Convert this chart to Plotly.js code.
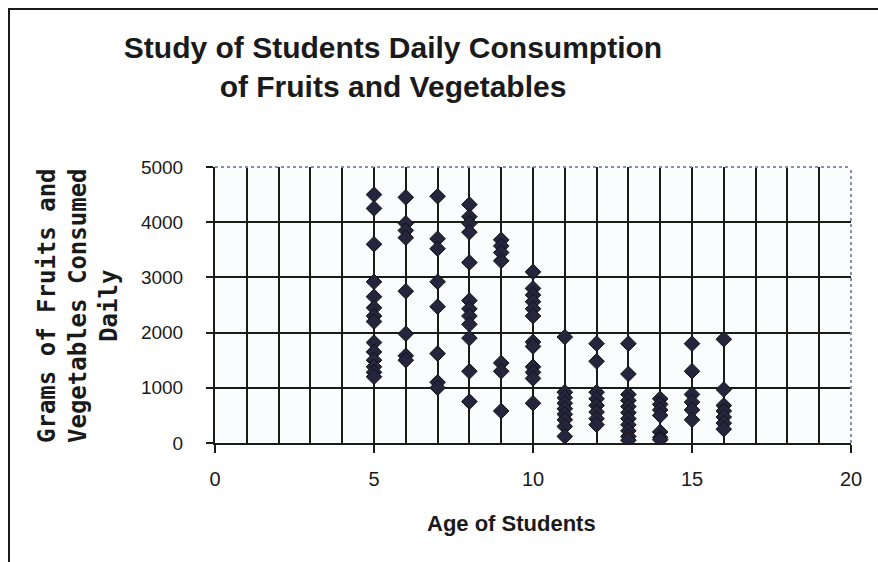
<!DOCTYPE html>
<html>
<head>
<meta charset="utf-8">
<script src="https://cdn.plot.ly/plotly-3.0.1.min.js"></script>
<style>
  html, body { margin: 0; padding: 0; background: #ffffff; }
  #wrap { position: relative; width: 878px; height: 562px; }
  #chart { width: 878px; height: 562px; }
  #frame { position: absolute; left: 8px; top: 8px; right: -4px; bottom: -4px;
           border-top: 2px solid #1a1a1a; border-left: 2px solid #1a1a1a; pointer-events: none; }
</style>
</head>
<body>
<div id="wrap">
  <div id="chart"></div>
  <div id="frame"></div>
</div>
<script>
// Ages (x) and grams consumed daily (y)
const ages = [5, 6, 7, 8, 9, 10, 11, 12, 13, 14, 15, 16];
const gramsAge5  = [4500, 4250, 3600, 2920, 2650, 2450, 2300, 2200, 1820, 1650, 1500, 1380, 1280, 1200];
const gramsAge6  = [4450, 3980, 3850, 3720, 2750, 1980, 1580, 1500];
const gramsAge7  = [4470, 3700, 3520, 2920, 2470, 1620, 1100, 1000];
const gramsAge8  = [4320, 4100, 3980, 3820, 3270, 2580, 2430, 2300, 2150, 1900, 1300, 750];
const gramsAge9  = [3680, 3570, 3450, 3300, 1450, 1300, 580];
const gramsAge10 = [3100, 2800, 2680, 2560, 2430, 2300, 1830, 1750, 1380, 1280, 1170, 720];
const gramsAge11 = [1920, 920, 820, 720, 620, 520, 420, 300, 120];
const gramsAge12 = [1800, 1480, 920, 800, 680, 560, 440, 330];
const gramsAge13 = [1800, 1250, 880, 770, 660, 550, 440, 330, 220, 120, 50];
const gramsAge14 = [800, 700, 600, 500, 200, 100, 60];
const gramsAge15 = [1800, 1300, 880, 740, 600, 420];
const gramsAge16 = [1880, 970, 680, 580, 470, 360, 250];
const xTickVals = [0, 5, 10, 15, 20];
const yTickVals = [0, 1000, 2000, 3000, 4000, 5000];

const gramsByAge = [gramsAge5, gramsAge6, gramsAge7, gramsAge8, gramsAge9, gramsAge10,
                    gramsAge11, gramsAge12, gramsAge13, gramsAge14, gramsAge15, gramsAge16];
const xs = [], ys = [];
ages.forEach((a, i) => gramsByAge[i].forEach(g => { xs.push(a); ys.push(g); }));

const gridCol = '#1c1c16';
const trace = {
  type: 'scatter', mode: 'markers', x: xs, y: ys,
  marker: { symbol: 'diamond', size: 12, color: '#25253e', line: { color: '#111111', width: 1 } },
  hoverinfo: 'x+y', showlegend: false
};

const layout = {
  width: 878, height: 562,
  margin: { l: 215, r: 27, t: 167, b: 119, pad: 0 },
  paper_bgcolor: '#ffffff', plot_bgcolor: '#fbfcfe',
  font: { family: '"Liberation Sans", Arial, sans-serif', color: '#1a1a1a' },
  title: {
    text: 'Study of Students Daily Consumption<br>of Fruits and Vegetables',
    font: { family: '"Liberation Sans", Arial, sans-serif', size: 30, weight: 'bold', color: '#1a1a1a' },
    x: 393 / 878, xanchor: 'center', xref: 'container',
    y: 1 - 58 / 562, yanchor: 'top', yref: 'container'
  },
  xaxis: {
    range: [0, 20], tickmode: 'array', tickvals: xTickVals, ticktext: xTickVals.map(String),
    showline: true, linecolor: gridCol, linewidth: 2,
    ticks: 'outside', ticklen: 8, tickwidth: 2, tickcolor: gridCol,
    showgrid: true, gridcolor: gridCol, gridwidth: 2, zeroline: false,
    minor: { dtick: 1, tick0: 0, showgrid: true, gridcolor: gridCol, gridwidth: 2, ticks: '' },
    tickfont: { size: 20, color: '#1a1a1a' }, ticklabelstandoff: 9,
    fixedrange: true
  },
  yaxis: {
    range: [0, 5000], tickmode: 'array', tickvals: yTickVals, ticktext: yTickVals.map(String),
    showline: true, linecolor: gridCol, linewidth: 2,
    ticks: 'outside', ticklen: 7, tickwidth: 2, tickcolor: gridCol,
    showgrid: true, gridcolor: gridCol, gridwidth: 2, zeroline: false,
    tickfont: { size: 19, color: '#1a1a1a' }, ticklabelstandoff: 19,
    fixedrange: true
  },
  annotations: [
    {
      text: 'Age of Students', xref: 'paper', yref: 'paper',
      x: (511 - 215) / 636, y: (443 - 523) / 276, xanchor: 'center', yanchor: 'middle',
      showarrow: false,
      font: { family: '"Liberation Sans", Arial, sans-serif', size: 22, weight: 'bold', color: '#1a1a1a' }
    },
    {
      text: 'Grams of Fruits and<br>Vegetables Consumed<br>Daily', xref: 'paper', yref: 'paper',
      x: (78 - 215) / 636, y: (443 - 306) / 276, xanchor: 'center', yanchor: 'middle',
      textangle: -90, showarrow: false,
      font: { family: '"DejaVu Sans Mono", monospace', size: 24, weight: 'bold', color: '#1a1a1a' }
    }
  ],
  shapes: [
    { type: 'line', xref: 'paper', yref: 'paper', x0: 0, x1: 1, y0: 1, y1: 1,
      line: { color: '#8a90a8', width: 2, dash: 'dot' } },
    { type: 'line', xref: 'paper', yref: 'paper', x0: 1, x1: 1, y0: 0, y1: 1,
      line: { color: '#8a90a8', width: 2, dash: 'dot' } }
  ]
};

Plotly.newPlot('chart', [trace], layout, { displayModeBar: false, staticPlot: true });
</script>
</body>
</html>
